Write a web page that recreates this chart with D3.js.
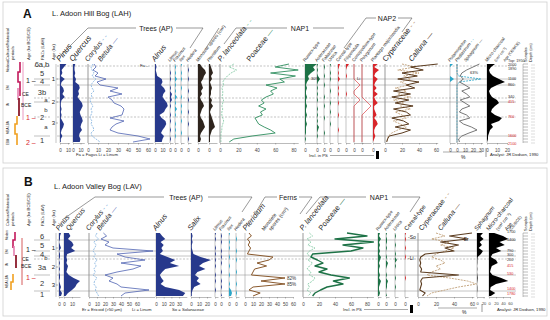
<!DOCTYPE html>
<html><head><meta charset="utf-8">
<script src="https://cdn.jsdelivr.net/npm/d3@7"></script>
<style>body{margin:0;background:#fff}svg{display:block}text{font-family:"Liberation Sans",Arial,sans-serif}</style>
</head><body><svg id="c" width="550" height="320"></svg>
<script>
// ---------- DATA: Panel A (L. Adoon Hill Bog) ----------
const depthA = [0,6,12,18,24,30,36,42,48,54,60,66,72,78,84,90,96,102,108,114,120,126,132,138,144,150,156];
const pinusA = [8,5,2,3,1,6,2,1,4,5,3,6,2,1,1,2,1,2,1,3,5,4,2,1,3,1,1];
const quercusA = [3,2,2,3,2,4,3,8,9,7,8,6,9,12,13,11,9,10,12,13,11,10,12,9,8,10,9];
const corylusA = [5,3,4,6,4,8,5,3,4,6,3,4,2,3,5,3,4,3,2,4,3,5,6,3,4,8,12];
const betulaA = [6,8,5,10,7,18,9,12,30,22,34,20,24,26,33,36,35,34,22,36,28,24,22,30,50,62,45];
const alnusA = [1,2,1,2,3,9,10,8,12,14,11,10,13,16,17,14,12,6,9,14,15,13,10,8,12,10,9];
const ulmusA = [0,0,0,1,0,1,0,0,1,0,2,1,2,0,1,0,0,1,0,1,0,0,1,0,0,1,0];
const fraxinusA = [0,1,0,1,0,2,0,1,0,1,0,2,0,1,0,2,0,1,0,0,1,0,1,0,1,0,0];
const ilexA = [1,0,0,1,0,1,0,0,1,0,0,1,0,0,1,0,1,0,0,1,0,0,0,1,0,0,0];
const hederaA = [0,0,1,0,0,1,0,0,0,1,0,0,1,0,0,0,1,0,0,0,1,0,0,0,0,1,0];
const monoleteA = [2,4,7,8,6,5,3,4,5,3,4,2,3,5,6,4,3,2,3,5,6,7,5,3,2,3,2];
const pteridiumA = [1,2,3,4,2,3,1,2,3,2,2,1,3,2,4,2,1,2,3,4,5,6,3,2,1,1,1];
const plancA = [15,10,18,12,8,5,3,4,2,3,3,2,4,3,2,3,2,2,3,4,3,2,2,1,1,1,1];
const poaceaeA = [75,60,85,55,82,65,70,50,62,55,58,50,45,48,42,50,44,46,38,40,42,48,55,60,35,15,10];
const rumexA = [12,8,10,6,3,4,2,1,2,1,1,2,1,1,2,1,1,2,1,1,2,1,1,1,0,1,0];
const asterA = [1,0,1,0,1,3,1,0,1,0,1,0,1,0,0,1,0,1,0,1,0,2,1,0,1,0,0];
const fabaceaeA = [0,1,0,0,1,0,0,1,0,0,0,1,0,0,1,0,0,0,1,0,0,0,0,1,0,0,0];
const urticaA = [1,0,0,1,0,1,0,0,0,1,0,0,0,1,0,0,1,0,0,0,1,0,0,0,0,0,0];
const cerealA = [2,1,0,1,0,2,0,0,1,0,1,0,0,1,0,0,0,1,0,0,0,0,1,0,0,0,0];
const filipendulaA = [3,1,0,0,1,0,0,0,0,0,1,0,0,0,0,0,0,0,0,0,0,0,0,0,0,0,0];
const conopodiumA = [0,0,0,0,0,0,1,2,1,0,0,1,2,1,0,0,0,0,0,0,0,0,0,0,0,0,0];
const polygonumA = [0,0,0,0,0,0,0,0,0,0,0,0,1,2,3,2,1,0,0,0,0,0,0,0,0,0,0];
const plantagoA = [4,1,5,2,1,4,2,1,3,1,4,1,2,4,1,1,2,3,1,3,4,2,1,1,2,1,0];
const cyperaceaeA = [20,35,15,40,22,30,18,28,12,25,15,30,10,22,18,30,12,20,25,10,18,25,15,8,4,3,2];
const callunaA = [62,30,45,20,38,15,40,25,35,10,30,8,28,12,33,10,25,30,8,22,28,12,30,20,5,3,2];
const potamogetonA = [3,0,0,0,0,4,0,0,0,0,0,0,0,0,0,0,0,0,0,0,0,0,0,0,0,0,0];
const pediastrumA = [0,0,0,0,2,30,3,0,0,0,0,0,0,0,0,0,0,0,0,0,0,0,0,0,0,0,0];
const sphagnumA = [28,20,12,6,4,8,3,10,16,6,12,16,4,10,16,6,3,12,16,3,8,18,25,15,6,2,3];
const charcoalA = [8,4,2,3,6,12,18,10,4,2,3,5,10,12,8,5,4,8,15,12,4,6,3,2,1,1,0];
const zoneDepthA = [4,30,42,68,76,106,144];
const zoneDashA = [1,0,0,1,0,1,0];
const pazA = ["6a,b","5","4","3b","a","b","2","a","1"];
const pazDepthA = [0,18,35,56,71,90,106,124,152];
const kaA = ["1","2","3"];
const kaDepthA = [30,76,118];
const ageA = ["Top: 1950","2000","1890","1100","860","340","415","760","1600","2100"];
const ageDepthA = [-7,2,10,30,42,66,76,106,144,160];
const ageBceA = [0,0,0,0,0,0,1,1,1,1];

// ---------- DATA: Panel B (L. Adoon Valley Bog) ----------
const depthB = [0,6,12,18,24,30,36,42,48,54,60,66,72,78,84,90,96,102,108,114,120,126];
const pinusB = [2,1,1,0,1,2,0,1,1,0,1,0,1,0,1,1,0,1,2,1,3,2];
const quercusB = [6,8,5,10,12,9,14,4,3,4,3,5,4,3,6,12,20,16,14,10,5,2];
const corylusB = [10,8,12,6,9,7,5,8,6,10,7,9,6,8,5,10,7,6,9,8,10,12];
const betulaB = [18,22,15,25,20,30,80,35,45,70,40,65,55,35,20,30,25,35,40,75,45,40];
const alnusB = [5,8,12,6,10,7,9,5,15,25,18,30,12,8,5,7,10,6,12,30,38,35];
const salixB = [1,2,1,2,1,1,2,3,12,25,15,10,18,8,5,10,7,12,4,2,1,1];
const ulmusB = [1,0,1,0,0,1,0,1,0,1,0,1,0,0,1,0,1,0,0,1,0,0];
const fraxinusB = [0,1,0,1,0,0,1,0,1,0,1,0,0,1,0,0,1,0,1,0,0,1];
const ilexB = [1,0,0,1,0,1,0,0,1,0,0,1,0,0,1,0,0,1,0,2,3,2];
const hederaB = [0,0,1,0,0,0,1,0,0,1,0,0,0,1,0,0,0,1,0,0,1,0];
const pteridiumB = [5,8,3,6,4,7,5,3,35,30,15,27,12,10,8,82,20,85,10,5,19,10];
const plancB = [8,12,5,10,6,15,8,5,10,6,12,8,5,10,8,15,12,6,8,5,10,6];
const poaceaeB = [55,80,40,88,50,75,60,12,10,18,25,15,30,20,35,58,38,50,30,22,15,12];
const rumexB = [2,1,3,1,2,1,2,1,3,2,1,2,1,1,2,1,3,2,1,1,2,1];
const asterB = [1,0,1,1,0,1,0,0,1,0,2,1,0,0,1,0,2,1,1,0,0,1];
const urticaB = [0,1,0,0,1,0,0,1,0,2,0,1,0,0,0,1,0,0,1,0,0,0];
const cerealB = [1,0,1,0,0,1,0,0,1,0,0,0,0,0,0,1,0,0,0,0,0,0];
const cyperaceaeB = [20,30,15,35,25,40,30,20,15,25,30,20,25,15,10,35,55,65,45,30,15,10];
const callunaB = [60,35,55,25,45,30,40,8,3,2,3,2,4,3,45,5,3,4,3,2,8,5];
const sphagnumB = [18,10,20,8,15,5,18,12,2,1,1,0,1,0,1,2,1,0,1,1,0,0];
const charcoalB = [15,40,55,30,45,20,35,10,5,20,25,8,5,3,10,35,55,20,5,3,18,5];
const zoneDepthB = [14,36,46,52,84,116];
const zoneDashB = [0,0,0,1,0,0];
const pazB = ["6","5","4","b","3a","2","1"];
const pazDepthB = [6,24,42,48,68,100,122];
const kaB = ["1","2","3"];
const kaDepthB = [30,68,104];
const ageB = ["1700","1400","790","300","200","415","530","1400","1780"];
const ageDepthB = [-2,14,36,44,53,66,82,112,121];
const ageBceB = [0,0,0,0,0,1,1,1,1];

// ---------- STYLE ----------
const NAVY="#27398c", MBLUE="#4f63b3", LBLUE="#7fb0de", CYAN="#2ba6c8", DKB="#2e241d",
      LGREEN="#7cc6a0", GREEN="#2f8f5f", DGREEN="#1d7246", RED="#d7262b", LBROWN="#b99468",
      DBROWN="#5b3b1e", BROWN="#8a5a2e", GRAY="#555";
const svg = d3.select("#c");

function frame(y,h){svg.append("rect").attr("x",3).attr("y",y).attr("width",544).attr("height",h)
  .attr("fill","none").attr("stroke","#cfcfcf").attr("stroke-width",0.8);}
frame(2,161); frame(168,148);

function txt(g,s,x,y,o={}){
  const t=g.append("text").attr("x",x).attr("y",y).text(s)
   .attr("font-size",o.size||5).attr("fill",o.color||"#222");
  if(o.anchor)t.attr("text-anchor",o.anchor);
  if(o.italic)t.attr("font-style","italic");
  if(o.bold)t.attr("font-weight","bold");
  if(o.rot!==undefined)t.attr("transform",`rotate(${o.rot},${x},${y})`);
  return t;
}
function poly(g,pts,o={}){
  g.append("path").attr("d",d3.line()(pts)).attr("fill","none")
   .attr("stroke",o.color||"#555").attr("stroke-width",o.w||0.6)
   .attr("stroke-dasharray",o.dash||null);
}

function panel(P){
  const g=svg.append("g");
  const y=d3.scaleLinear().domain([0,P.maxDepth]).range([P.top,P.bottom]);
  P.zones.forEach((z,i)=>{
    g.append("line").attr("x1",P.zx0).attr("x2",P.zx1).attr("y1",y(z)).attr("y2",y(z))
     .attr("stroke",P.zoneDash[i]?"#9a9a9a":"#b5b5b5").attr("stroke-width",P.zoneDash[i]?0.6:0.8)
     .attr("stroke-dasharray",P.zoneDash[i]?"2,1.5":null);
    g.append("line").attr("x1",34).attr("x2",50).attr("y1",y(z)).attr("y2",y(z))
     .attr("stroke","#999").attr("stroke-width",0.6).attr("stroke-dasharray",P.zoneDash[i]?"2,1.5":null);
  });
  P.cols.forEach(c=>{
    const vals=c.cap?c.v.map(d=>Math.min(d,c.cap)):c.v;
    const x=d3.scaleLinear().domain([0,c.max]).range([c.x0,c.x0+c.max*c.k]);
    const pts=vals.map((v,i)=>[v,P.depth[i]]);
    g.append("line").attr("x1",c.x0).attr("x2",c.x0).attr("y1",P.top).attr("y2",P.bottom)
      .attr("stroke","#888").attr("stroke-width",0.5);
    if(c.ticks){
      const ax=g.append("g").attr("transform",`translate(0,${P.bottom})`)
        .call(d3.axisBottom(x).tickValues(c.ticks).tickSize(1.5).tickSizeOuter(0).tickFormat(d3.format("d")));
      ax.select(".domain").attr("stroke","#777").attr("stroke-width",0.5);
      ax.selectAll(".tick line").attr("stroke","#777").attr("stroke-width",0.5);
      ax.selectAll("text").attr("font-size",c.fs||4.6).attr("fill","#444").attr("dy","0.9em")
        .attr("font-family",'"Liberation Sans",Arial,sans-serif');
    }
    if(c.type==="fill"){
      g.append("path").datum(pts).attr("fill",c.color).attr("stroke","none")
       .attr("d",d3.area().y(d=>y(d[1])).x0(c.x0).x1(d=>x(d[0])));
    } else if(c.type==="hollow"){
      g.append("path").datum(pts).attr("fill","none").attr("stroke",c.color).attr("stroke-width",0.6)
       .attr("d",d3.line().y(d=>y(d[1])).x(d=>x(d[0])));
    } else {
      g.append("path").datum(pts).attr("fill","none").attr("stroke",c.color)
       .attr("stroke-width",c.w||0.8).attr("stroke-dasharray",c.type==="dash"?"2,1":null)
       .attr("stroke-linejoin","round")
       .attr("d",d3.line().y(d=>y(d[1])).x(d=>x(d[0])));
    }
    if(c.cap){
      c.v.forEach((v,i)=>{ if(v>c.cap){
        txt(g,v+"%",x(c.cap)+2,y(P.depth[i])+1.6,{size:4.6,color:"#333"});
      }});
    }
  });
  g.append("line").attr("x1",56).attr("x2",56).attr("y1",P.top).attr("y2",P.bottom).attr("stroke","#888").attr("stroke-width",0.5);
  P.ka.forEach((k,i)=>{
    g.append("line").attr("x1",56).attr("x2",58).attr("y1",y(P.kaDepth[i])).attr("y2",y(P.kaDepth[i])).attr("stroke","#666").attr("stroke-width",0.5);
    txt(g,k,53.5,y(P.kaDepth[i])+2,{size:6,anchor:"middle"});
  });
  P.paz.forEach((p,i)=>{
    const small=p.length===1&&isNaN(+p);
    txt(g,p,small?46:42,y(P.pazDepth[i])+2.5,{size:small?6:7.5,anchor:"middle",color:"#333"});
  });
  P.age.forEach((a,i)=>{
    txt(g,a,P.ageX,y(P.ageDepth[i])+1.4,{size:3.8,color:P.ageBce[i]?RED:"#333"});
  });
  g.append("line").attr("x1",P.sx).attr("x2",P.sx).attr("y1",P.top).attr("y2",P.bottom).attr("stroke","#888").attr("stroke-width",0.5);
  P.depth.forEach(d=>{
    g.append("line").attr("x1",P.sx).attr("x2",P.sx+5).attr("y1",y(d)).attr("y2",y(d)).attr("stroke","#777").attr("stroke-width",0.5);
    g.append("line").attr("x1",P.sx+8).attr("x2",P.sx+12).attr("y1",y(d)+1).attr("y2",y(d)+1).attr("stroke","#aaa").attr("stroke-width",0.4);
  });
  P.labels.forEach(l=>{
    const t=txt(g,l.t,l.x,P.top-2,{size:l.s,italic:l.i,rot:-52});
    if(l.d) t.append("tspan").text(l.d).attr("fill",l.dc||"#555");
  });
  return {g,y};
}

// ---------- PANEL A ----------
const A=panel({top:64,bottom:143,maxDepth:158,depth:depthA,zones:zoneDepthA,zoneDash:zoneDashA,zx0:57,zx1:516,
 paz:pazA,pazDepth:pazDepthA,ka:kaA,kaDepth:kaDepthA,age:ageA,ageDepth:ageDepthA,ageBce:ageBceA,ageX:508,sx:523,
 cols:[
  {v:pinusA,x0:60,k:0.8,max:12,ticks:[0,10],type:"fill",color:NAVY},
  {v:quercusA,x0:73,k:0.75,max:15,ticks:[0,10],type:"fill",color:NAVY},
  {v:corylusA,x0:88,k:1,max:65,ticks:[0,10,20,30,40,50,60],type:"dash",color:LBLUE},
  {v:betulaA,x0:88,k:1,max:65,type:"line",color:MBLUE},
  {v:alnusA,x0:155,k:0.75,max:18,ticks:[0,10],type:"fill",color:NAVY},
  {v:ulmusA,x0:170,k:1,max:3,ticks:[0],type:"fill",color:NAVY},
  {v:fraxinusA,x0:175,k:1,max:3,ticks:[0],type:"fill",color:CYAN},
  {v:ilexA,x0:181,k:1,max:3,ticks:[0],type:"fill",color:CYAN},
  {v:hederaA,x0:188,k:1,max:3,ticks:[0],type:"fill",color:NAVY},
  {v:monoleteA,x0:198,k:1,max:9,ticks:[0],type:"fill",color:DKB},
  {v:pteridiumA,x0:209,k:1,max:8,ticks:[0],type:"fill",color:DKB},
  {v:plancA,x0:220,k:0.92,max:85,ticks:[0,20,40,60,80],type:"dash",color:LGREEN},
  {v:poaceaeA,x0:220,k:0.92,max:85,type:"line",color:GREEN,w:0.9},
  {v:rumexA,x0:305,k:1,max:12,ticks:[0],type:"fill",color:DGREEN},
  {v:asterA,x0:317,k:1,max:4,ticks:[0],type:"fill",color:DGREEN},
  {v:fabaceaeA,x0:324,k:1,max:3,ticks:[0],type:"fill",color:DGREEN},
  {v:urticaA,x0:330,k:1,max:3,ticks:[0],type:"fill",color:DGREEN},
  {v:cerealA,x0:338,k:1,max:3,ticks:[0],type:"fill",color:RED},
  {v:filipendulaA,x0:346,k:1,max:4,ticks:[0],type:"fill",color:RED},
  {v:conopodiumA,x0:354,k:3,max:3,ticks:[0],type:"hollow",color:RED},
  {v:polygonumA,x0:362,k:3,max:3,ticks:[0],type:"hollow",color:RED},
  {v:plantagoA,x0:373,k:1.2,max:6,ticks:[0],type:"fill",color:RED},
  {v:cyperaceaeA,x0:385,k:0.85,max:62,ticks:[0,20,40,60],type:"dash",color:LBROWN},
  {v:callunaA,x0:385,k:0.85,max:62,type:"line",color:DBROWN,w:1},
  {v:potamogetonA,x0:450,k:1,max:5,ticks:[0],type:"fill",color:CYAN},
  {v:pediastrumA,x0:457,k:0.8,max:32,ticks:[0,10,20,30],type:"dash",color:CYAN},
  {v:sphagnumA,x0:457,k:0.8,max:32,type:"line",color:GRAY},
  {v:charcoalA,x0:487,k:1,max:20,ticks:[0,10,20],type:"fill",color:"#000"}
 ],
 labels:[
  {t:"Pinus",x:60,s:8,i:1},{t:"Quercus",x:73,s:8,i:1},{t:"Corylus",x:88,s:7,i:1,d:" - -",dc:LBLUE},
  {t:"Betula",x:101,s:7,i:1,d:" —",dc:MBLUE},{t:"Alnus",x:155,s:7.5,i:1},
  {t:"Ulmus",x:170,s:4.5,i:1},{t:"Fraxinus",x:175,s:4.5,i:1},{t:"Ilex",x:181,s:4.5,i:1},{t:"Hedera",x:188,s:4.5,i:1},
  {t:"Monolete spores (cm²)",x:198,s:4.5},{t:"Pteridium",x:209,s:4.5,i:1},
  {t:"P. lanceolata",x:221,s:7.5,i:1,d:" - -",dc:LGREEN},{t:"Poaceae",x:250,s:7.5,d:" —",dc:GREEN},
  {t:"Rumex-type",x:305,s:4.5},{t:"Asteraceae",x:317,s:4.5},{t:"Fabaceae",x:324,s:4.5},{t:"Urtica",x:330,s:4.5},
  {t:"Cereal-type",x:338,s:4.5},{t:"Filipendula",x:346,s:4.5},{t:"Conopodium-type",x:354,s:4.5},
  {t:"Polygonum",x:362,s:4.5},{t:"Plantago major/media",x:373,s:4.5},
  {t:"Cyperaceae",x:386,s:7.5,d:" - -",dc:LBROWN},{t:"Calluna",x:412,s:7.5,i:1,d:" —",dc:DBROWN},
  {t:"Potamogeton",x:450,s:4.5,i:1},{t:"Pediastrum",x:457,s:4.5,i:1,d:" - -",dc:CYAN},
  {t:"Sphagnum",x:466,s:4.5,i:1,d:" —",dc:GRAY},{t:"Micro-charcoal",x:487,s:4.5},
  {t:"(cm² cm⁻³)",x:496,s:3.8},{t:"Age (CE/BCE)",x:505,s:3.8}
 ]});

// ---------- PANEL B ----------
const B=panel({top:233,bottom:297,maxDepth:128,depth:depthB,zones:zoneDepthB,zoneDash:zoneDashB,zx0:57,zx1:516,
 paz:pazB,pazDepth:pazDepthB,ka:kaB,kaDepth:kaDepthB,age:ageB,ageDepth:ageDepthB,ageBce:ageBceB,ageX:507,sx:523,
 cols:[
  {v:pinusB,x0:59,k:1,max:4,ticks:[0],type:"fill",color:NAVY},
  {v:quercusB,x0:64,k:0.8,max:20,ticks:[0,10],type:"fill",color:NAVY},
  {v:corylusB,x0:89,k:0.8,max:82,ticks:[0,10,20,30,40,50,60],type:"dash",color:LBLUE},
  {v:betulaB,x0:89,k:0.8,max:82,type:"line",color:MBLUE},
  {v:alnusB,x0:156,k:0.77,max:40,ticks:[0,10,20,30],type:"fill",color:NAVY},
  {v:salixB,x0:191,k:0.8,max:25,ticks:[0,10,20],type:"fill",color:NAVY},
  {v:ulmusB,x0:215,k:1,max:3,ticks:[0],type:"fill",color:NAVY},
  {v:fraxinusB,x0:221,k:1,max:3,ticks:[0],type:"fill",color:NAVY},
  {v:ilexB,x0:229,k:1,max:3,ticks:[0],type:"fill",color:CYAN},
  {v:hederaB,x0:236,k:1,max:3,ticks:[0],type:"fill",color:CYAN},
  {v:pteridiumB,x0:245,k:0.8,max:60,ticks:[0,10,20,30,40,50,60],type:"line",color:BROWN,w:1,cap:50},
  {v:plancB,x0:303,k:0.8,max:88,ticks:[0,20,40,60,80],type:"dash",color:LGREEN},
  {v:poaceaeB,x0:303,k:0.8,max:88,type:"line",color:DGREEN,w:1.4},
  {v:rumexB,x0:378,k:1,max:3,ticks:[0],type:"fill",color:DGREEN},
  {v:asterB,x0:386,k:1,max:3,ticks:[0],type:"fill",color:DGREEN},
  {v:urticaB,x0:395,k:1,max:3,ticks:[0],type:"fill",color:DGREEN},
  {v:cerealB,x0:405,k:1,max:3,ticks:[0],type:"fill",color:RED},
  {v:cyperaceaeB,x0:418,k:0.9,max:62,ticks:[0,20,40,60],type:"dash",color:LBROWN},
  {v:callunaB,x0:418,k:0.9,max:62,type:"line",color:DBROWN,w:1.1},
  {v:sphagnumB,x0:477,k:0.33,max:22,ticks:[0,20],type:"fill",color:"#000",fs:4},
  {v:charcoalB,x0:489,k:0.35,max:60,ticks:[0,20,40,60],type:"fill",color:"#000",fs:4}
 ],
 labels:[
  {t:"Pinus",x:59,s:7,i:1},{t:"Quercus",x:69,s:7,i:1},{t:"Corylus",x:89,s:7,i:1,d:" - -",dc:LBLUE},
  {t:"Betula",x:100,s:7,i:1,d:" —",dc:MBLUE},{t:"Alnus",x:156,s:7.5,i:1},{t:"Salix",x:191,s:7.5,i:1},
  {t:"Ulmus",x:215,s:4.5,i:1},{t:"Fraxinus",x:221,s:4.5,i:1},{t:"Ilex",x:229,s:4.5,i:1},{t:"Hedera",x:236,s:4.5,i:1},
  {t:"Pteridium",x:246,s:7.5,i:1},{t:"Monolete",x:264,s:5},{t:"spores (cm²)",x:271,s:5},
  {t:"P. lanceolata",x:303,s:7.5,i:1},{t:"Poaceae",x:322,s:7.5,d:" —",dc:DGREEN},
  {t:"Rumex-type",x:378,s:4.5},{t:"Asteraceae",x:386,s:4.5},{t:"Urtica",x:395,s:4.5,i:1},
  {t:"Cereal-type",x:407,s:6},{t:"Cyperaceae",x:422,s:7,d:" - -",dc:LBROWN},{t:"Calluna",x:441,s:7,i:1,d:" —",dc:DBROWN},
  {t:"Sphagnum",x:477,s:6,i:1},{t:"Micro-charcoal",x:489,s:6},{t:"(cm² cm⁻³)",x:498,s:4.5},{t:"Age",x:507,s:5},{t:"(CE/BCE)",x:511,s:4}
 ]});

// ---------- TITLES & ANNOTATIONS ----------
const ga=A.g, gb=B.g;
txt(ga,"A",23,18,{size:12,bold:1,color:"#111"});
txt(ga,"L. Adoon Hill Bog (LAH)",52,16,{size:7.5});
txt(gb,"B",24,186,{size:12,bold:1,color:"#111"});
txt(gb,"L. Adoon Valley Bog (LAV)",54,189,{size:7.5});

[[ga,62],[gb,228]].forEach(([g,yb],j)=>{
  txt(g,"Cultural/historical",9,yb-2,{size:4.2,rot:-90});
  txt(g,"periods",14,yb-2,{size:4.2,rot:-90});
  txt(g,"Age (ka BCE/CE)",30,yb-2,{size:4.2,rot:-90});
  txt(g,j?"PAZs (LAV)":"PAZs (LAH)",44,yb-2,{size:4.2,rot:-90});
  txt(g,"Age (ka)",55,yb-2,{size:4.2,rot:-90});
});
poly(ga,[[20,62],[20,72],[18,72],[18,82],[20,82],[20,96]],{color:"#c2185b",w:1.6});
poly(ga,[[18,88],[18,100]],{color:"#e57fb0",w:1.6});
poly(ga,[[19,98],[19,116]],{color:"#8b1a2b",w:1.8});
poly(ga,[[17,116],[17,124],[15,124],[15,134],[17,134],[17,145]],{color:"#f0a020",w:1.6});
poly(ga,[[23,62],[23,120]],{color:"#e57fb0",w:0.8});
txt(ga,"Medieval",9,72,{size:3,rot:-90});txt(ga,"EM",9,90,{size:3,rot:-90});
txt(ga,"IA",9,106,{size:3,rot:-90});txt(ga,"MBA LBA",9,134,{size:3,rot:-90});txt(ga,"EBA",9,145,{size:3,rot:-90});
txt(ga,"1 –",26,83,{size:7,color:"#222"});txt(ga,"CE",22,96,{size:5});txt(ga,"BCE",21,107,{size:5});
txt(ga,"1 –",26,120,{size:7,color:RED});txt(ga,"2 –",26,145,{size:7,color:RED});
poly(gb,[[15,232],[15,240],[13,240],[13,248]],{color:"#c2185b",w:1.6});
poly(gb,[[14,246],[14,256]],{color:"#e57fb0",w:1.6});
poly(gb,[[16,255],[16,268]],{color:"#8b1a2b",w:1.8});
poly(gb,[[13,274],[13,282],[11,282],[11,290]],{color:"#f0a020",w:1.6});
poly(gb,[[22,238],[22,285]],{color:"#c33",w:0.8});
txt(gb,"Modern",8,240,{size:3,rot:-90});txt(gb,"EM",8,254,{size:3,rot:-90});
txt(gb,"IA",8,266,{size:3,rot:-90});txt(gb,"MBA LBA",8,288,{size:3,rot:-90});
txt(gb,"1 –",26,252,{size:7});txt(gb,"CE",22,261,{size:5});txt(gb,"BCE",21,268,{size:5});
txt(gb,"1 –",26,280,{size:7,color:RED});

poly(ga,[[62,54],[88,28],[136,28]]);txt(ga,"Trees (AP)",156,31,{size:7,anchor:"middle"});
poly(ga,[[176,28],[203,28],[190,48]]);poly(ga,[[219,28],[206,48]]);
poly(ga,[[224,44],[236,28],[287,28]]);txt(ga,"NAP1",300,31,{size:7,anchor:"middle"});
poly(ga,[[313,28],[344,28]]);poly(ga,[[344,48],[366,18],[376,18]]);
txt(ga,"NAP2",387,21,{size:7,anchor:"middle"});poly(ga,[[398,18],[412,18],[402,32]]);
poly(gb,[[62,220],[95,197],[164,197]]);txt(gb,"Trees (AP)",186,200,{size:7,anchor:"middle"});
poly(gb,[[208,197],[252,197],[242,212]]);
poly(gb,[[256,212],[265,197],[277,197]]);txt(gb,"Ferns",288,200,{size:7,anchor:"middle"});
poly(gb,[[299,197],[312,197],[300,214]]);
poly(gb,[[306,214],[320,197],[366,197]]);txt(gb,"NAP1",379,200,{size:7,anchor:"middle"});
poly(gb,[[392,197],[420,197],[410,212]]);

txt(ga,"Fa –",140,67,{size:4.2});txt(ga,"Li",357,80,{size:4.2});
txt(ga,"30%",311,80,{size:4});txt(ga,"63%",470,74,{size:4});
txt(gb,"-So",408,239,{size:5});txt(gb,"-Li",408,260,{size:5});txt(gb,"-Er",462,241,{size:5});
txt(ga,"Samples",527,62,{size:3.8,rot:-90});txt(ga,"Depth (cm)",532,62,{size:3.8,rot:-90});
txt(gb,"Samples",527,231,{size:3.8,rot:-90});txt(gb,"Depth (cm)",532,231,{size:3.8,rot:-90});

txt(ga,"Fa = Fagus   Li = Linum",76,156,{size:4.2});
txt(ga,"Incl. in PS",309,157,{size:4.2});poly(ga,[[330,155.5],[374,155.5]],{w:0.5});
ga.append("rect").attr("x",376).attr("y",151).attr("width",3).attr("height",8).attr("fill","#000");
poly(ga,[[443,152],[482,152]],{w:0.5});txt(ga,"%",461,159,{size:5});
poly(ga,[[486,148],[486,157]],{w:0.6});
txt(ga,"Analyst: JR Dodson, 1990",490,156,{size:4.2});
txt(gb,"Er = Ericoid (>50 µm)",82,311,{size:4.2});txt(gb,"Li = Linum",132,311,{size:4.2});
txt(gb,"So = Solanaceae",172,311,{size:4.2});
txt(gb,"Incl. in PS",343,311,{size:4.2});poly(gb,[[364,309.5],[408,309.5]],{w:0.5});
gb.append("rect").attr("x",410).attr("y",305).attr("width",3).attr("height",8).attr("fill","#000");
poly(gb,[[438,308],[477,308]],{w:0.5});txt(gb,"%",462,314,{size:5});
poly(gb,[[482,304],[482,312]],{w:0.6});
txt(gb,"Analyst: JR Dodson, 1990",497,311,{size:4.2});
</script></body></html>
